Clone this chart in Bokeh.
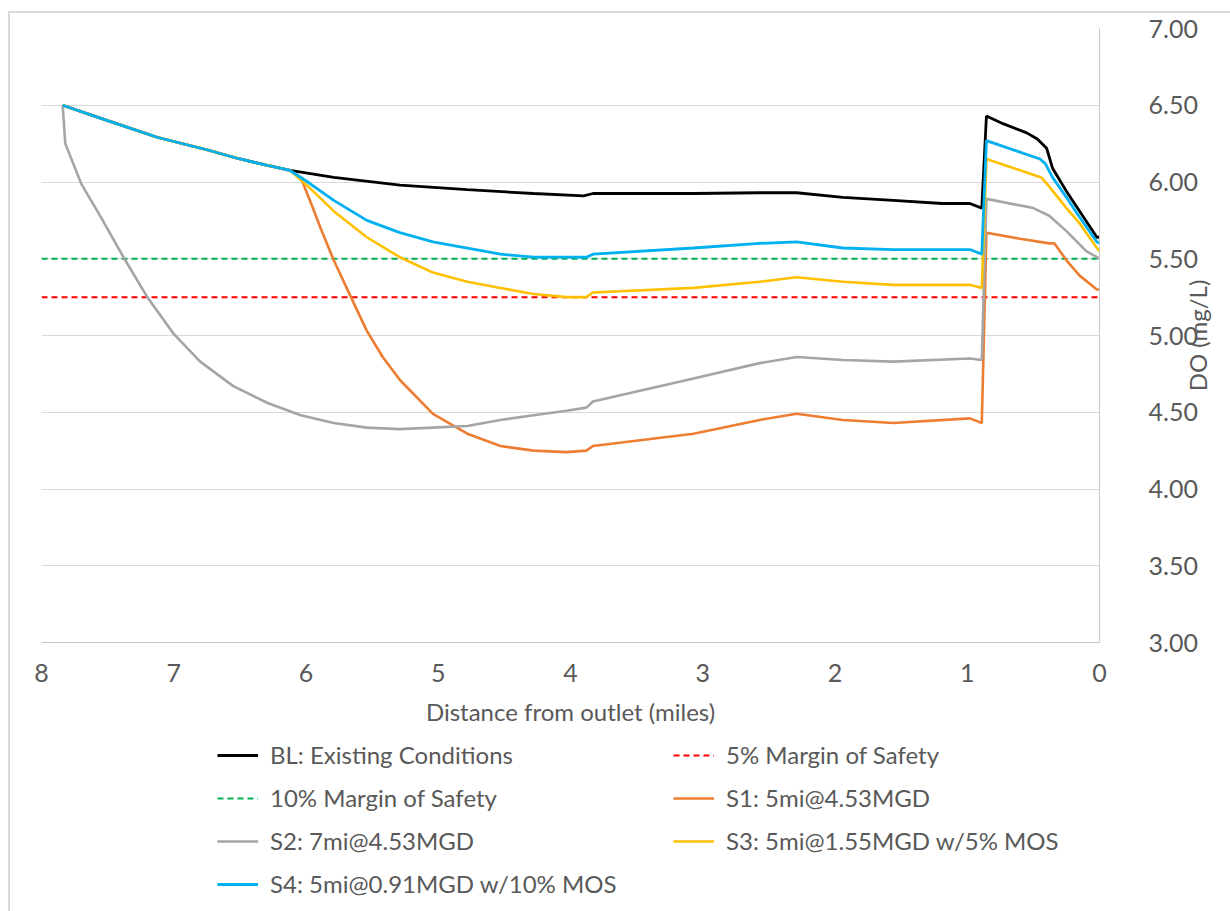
import math
from bokeh.plotting import figure
from bokeh.layouts import column, row
from bokeh.models import Range1d, FixedTicker, NumeralTickFormatter, Legend, LegendItem
from bokeh.core.properties import value
from bokeh.embed import file_html
from bokeh.resources import INLINE

FONT = "Lato"
TEXT = "#595959"
FS = "24px"
TICK_FS = "25px"

# Axis ticks
x_ticks = [0, 1, 2, 3, 4, 5, 6, 7, 8]
y_ticks = [3.0, 3.5, 4.0, 4.5, 5.0, 5.5, 6.0, 6.5, 7.0]
y_title = "DO (mg/L)"
x_title = "Distance from outlet (miles)"

# BL: Existing Conditions
bl_x = [7.84, 7.50, 7.12, 6.75, 6.50, 6.30, 6.12, 5.79, 5.29, 4.78, 4.28, 3.90, 3.83,
        3.07, 2.57, 2.29, 1.94, 1.56, 1.19, 0.98, 0.89, 0.855, 0.73, 0.55, 0.47, 0.40,
        0.355, 0.25, 0.15, 0.02, 0.0]
bl_y = [6.50, 6.40, 6.29, 6.21, 6.15, 6.11, 6.075, 6.03, 5.98, 5.95, 5.925, 5.91, 5.925,
        5.925, 5.93, 5.93, 5.90, 5.88, 5.86, 5.86, 5.83, 6.43, 6.38, 6.32, 6.28, 6.22,
        6.09, 5.94, 5.81, 5.64, 5.64]

# Margin-of-safety thresholds
mos5_x = [8.0, 0.0]
mos5_y = [5.25, 5.25]
mos10_x = [8.0, 0.0]
mos10_y = [5.50, 5.50]

# S1: 5mi@4.53MGD
s1_x = [7.84, 7.50, 7.12, 6.75, 6.50, 6.30, 6.12, 6.04, 5.97, 5.89, 5.79, 5.66, 5.54,
        5.42, 5.29, 5.04, 4.78, 4.53, 4.28, 4.03, 3.88, 3.83, 3.07, 2.57, 2.29, 1.94,
        1.56, 0.98, 0.89, 0.855, 0.60, 0.38, 0.34, 0.25, 0.15, 0.02, 0.0]
s1_y = [6.50, 6.40, 6.29, 6.21, 6.15, 6.11, 6.075, 6.03, 5.88, 5.70, 5.49, 5.25, 5.03,
        4.86, 4.71, 4.49, 4.36, 4.28, 4.25, 4.24, 4.25, 4.28, 4.36, 4.45, 4.49, 4.45,
        4.43, 4.46, 4.43, 5.67, 5.63, 5.60, 5.60, 5.49, 5.39, 5.30, 5.30]

# S2: 7mi@4.53MGD
s2_x = [7.84, 7.82, 7.70, 7.55, 7.38, 7.20, 7.00, 6.80, 6.55, 6.29, 6.04, 5.79, 5.54,
        5.29, 5.04, 4.78, 4.53, 4.28, 4.03, 3.88, 3.83, 3.07, 2.57, 2.29, 1.94, 1.56,
        0.98, 0.89, 0.855, 0.50, 0.38, 0.25, 0.10, 0.02, 0.0]
s2_y = [6.50, 6.25, 5.99, 5.77, 5.51, 5.25, 5.01, 4.83, 4.67, 4.56, 4.48, 4.43, 4.40,
        4.39, 4.40, 4.41, 4.45, 4.48, 4.51, 4.53, 4.57, 4.72, 4.82, 4.86, 4.84, 4.83,
        4.85, 4.84, 5.89, 5.83, 5.78, 5.68, 5.55, 5.51, 5.50]

# S3: 5mi@1.55MGD w/5% MOS
s3_x = [7.84, 7.50, 7.12, 6.75, 6.50, 6.30, 6.12, 5.97, 5.79, 5.54, 5.29, 5.04, 4.78,
        4.53, 4.28, 4.03, 3.88, 3.83, 3.07, 2.57, 2.29, 1.94, 1.56, 0.98, 0.89, 0.855,
        0.44, 0.38, 0.25, 0.15, 0.02, 0.0]
s3_y = [6.50, 6.40, 6.29, 6.21, 6.15, 6.11, 6.075, 5.96, 5.81, 5.64, 5.51, 5.41, 5.35,
        5.31, 5.27, 5.25, 5.25, 5.28, 5.31, 5.35, 5.38, 5.35, 5.33, 5.33, 5.31, 6.15,
        6.03, 5.97, 5.83, 5.73, 5.57, 5.55]

# S4: 5mi@0.91MGD w/10% MOS
s4_x = [7.84, 7.50, 7.12, 6.75, 6.50, 6.30, 6.12, 5.97, 5.79, 5.54, 5.29, 5.04, 4.78,
        4.53, 4.28, 4.03, 3.88, 3.83, 3.07, 2.57, 2.29, 1.94, 1.56, 0.98, 0.89, 0.855,
        0.45, 0.41, 0.355, 0.25, 0.15, 0.02, 0.0]
s4_y = [6.50, 6.40, 6.29, 6.21, 6.15, 6.11, 6.075, 5.99, 5.88, 5.75, 5.67, 5.61, 5.57,
        5.53, 5.51, 5.51, 5.51, 5.53, 5.57, 5.60, 5.61, 5.57, 5.56, 5.56, 5.53, 6.27,
        6.15, 6.12, 6.03, 5.90, 5.77, 5.61, 5.60]

series = [
    ("BL: Existing Conditions", bl_x, bl_y, dict(line_color="#000000", line_width=2.8)),
    ("5% Margin of Safety", mos5_x, mos5_y, dict(line_color="#FF0000", line_width=2, line_dash="6 4")),
    ("10% Margin of Safety", mos10_x, mos10_y, dict(line_color="#00B050", line_width=2, line_dash="6 4")),
    ("S1: 5mi@4.53MGD", s1_x, s1_y, dict(line_color="#ED7D31", line_width=2.6)),
    ("S2: 7mi@4.53MGD", s2_x, s2_y, dict(line_color="#A5A5A5", line_width=2.6)),
    ("S3: 5mi@1.55MGD w/5% MOS", s3_x, s3_y, dict(line_color="#FFC000", line_width=2.6)),
    ("S4: 5mi@0.91MGD w/10% MOS", s4_x, s4_y, dict(line_color="#00B0F0", line_width=2.8)),
]

MAIN_W, MAIN_H = 1190, 725
TOP, BOTTOM = 15, 96
STRIP_W, STRIP_OVERLAP = 40, 20

# ---- main chart ----
p = figure(width=MAIN_W, height=MAIN_H,
           x_range=Range1d(8, 0), y_range=Range1d(3, 7),
           y_axis_location="right",
           output_backend="svg", toolbar_location=None,
           min_border_left=31, min_border_top=TOP,
           min_border_right=MAIN_W - 31 - 1059, min_border_bottom=BOTTOM)
p.outline_line_color = None
p.background_fill_color = "white"
p.border_fill_color = "white"

p.xaxis.ticker = FixedTicker(ticks=x_ticks)
p.yaxis.ticker = FixedTicker(ticks=y_ticks)
p.yaxis.formatter = NumeralTickFormatter(format="0.00")
for ax in (p.xaxis[0], p.yaxis[0]):
    ax.axis_line_color = "#c8c8c8"
    ax.axis_line_width = 1
    ax.major_tick_line_color = None
    ax.minor_tick_line_color = None
    ax.major_tick_out = 0
    ax.major_tick_in = 0
    ax.minor_tick_out = 0
    ax.minor_tick_in = 0
    ax.major_label_text_font = FONT
    ax.major_label_text_font_size = TICK_FS
    ax.major_label_text_color = TEXT
    ax.axis_label_text_font = FONT
    ax.axis_label_text_font_size = FS
    ax.axis_label_text_font_style = "normal"
    ax.axis_label_text_color = TEXT
p.xaxis.axis_label = x_title
p.xaxis.major_label_standoff = 21
p.xaxis.axis_label_standoff = 12
p.yaxis[0].major_label_standoff = 49

p.xgrid.visible = False
p.ygrid.ticker = FixedTicker(ticks=y_ticks)
p.ygrid.grid_line_color = "#d9d9d9"
p.ygrid.grid_line_width = 1

for label, xs, ys, style in series:
    p.line(xs, ys, **style)

# ---- y-axis title strip (reads bottom to top), tucked into the right margin ----
yl = figure(width=STRIP_W, height=MAIN_H, x_range=Range1d(0, STRIP_W), y_range=Range1d(3, 7),
            output_backend="svg", toolbar_location=None,
            x_axis_location=None, y_axis_location=None,
            min_border_left=0, min_border_right=0,
            min_border_top=TOP, min_border_bottom=BOTTOM)
yl.grid.visible = False
yl.outline_line_color = None
yl.background_fill_color = None
yl.border_fill_color = None
yl.styles = {"margin-left": f"-{STRIP_OVERLAP}px"}
yl.text(x=[17], y=[5.0], text=[y_title], angle=math.pi / 2,
        text_align="center", text_baseline="middle",
        text_font=value(FONT), text_font_size=FS, text_color=TEXT)

# ---- legend strip ----
lg = figure(width=1220, height=911 - 13 - MAIN_H, x_range=Range1d(0, 1), y_range=Range1d(0, 1),
            output_backend="svg", toolbar_location=None,
            x_axis_location=None, y_axis_location=None,
            min_border_left=0, min_border_right=0, min_border_top=0, min_border_bottom=0)
lg.grid.visible = False
lg.outline_line_color = None
lg.background_fill_color = "white"
lg.border_fill_color = "white"

items = {}
for label, xs, ys, style in series:
    r = lg.line(xs, ys, **style)   # all values lie outside this strip's 0..1 range
    items[label] = LegendItem(label=label, renderers=[r])

legend_style = dict(label_text_font=FONT, label_text_font_size=FS,
                    label_text_color=TEXT, glyph_width=41, glyph_height=20,
                    label_height=20, label_standoff=12, spacing=14,
                    padding=0, margin=0, border_line_color=None,
                    background_fill_alpha=0)
left_col = [series[i][0] for i in (0, 2, 4, 6)]
right_col = [series[i][0] for i in (1, 3, 5)]
leg1 = Legend(items=[items[k] for k in left_col], location=(207, 13), **legend_style)
leg2 = Legend(items=[items[k] for k in right_col], location=(663, 56), **legend_style)
lg.add_layout(leg1, "center")
lg.add_layout(leg2, "center")

layout = column(row(p, yl, spacing=0), lg, spacing=0)
layout.styles = {"margin-left": "8px", "margin-top": "11px",
                 "border-left": "2px solid #d9d9d9", "border-top": "2px solid #d9d9d9"}

open("out.html", "w").write(file_html(layout, INLINE))
